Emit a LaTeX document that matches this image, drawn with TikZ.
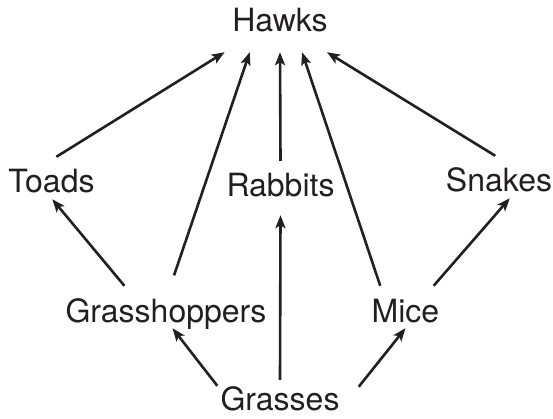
\documentclass[tikz,border=0pt]{standalone}
\usepackage{fontspec}
\setmainfont{TeX Gyre Heros}
\usetikzlibrary{arrows.meta}
\definecolor{ink}{RGB}{35,31,32}

\begin{document}
\begin{tikzpicture}[x=1pt,y=-1pt,
  every node/.style={anchor=base,text=ink,font=\fontsize{32}{38}\selectfont,
    inner xsep=3pt,inner ysep=0pt,text height=36pt,text depth=6pt},
  feeds/.style={every edge/.style={draw=ink,line width=2.6pt,
    -{Stealth[length=13pt,width=10pt,inset=3pt]}}}]
\useasboundingbox (0,0) rectangle (553,419);
\node[text depth=20pt,inner xsep=8pt] (hawks) at (280,32) {Hawks};
\node (toads) at (51.5,193) {Toads};
\node[text depth=18pt] (rabbits) at (280.5,197) {Rabbits};
\node (snakes) at (499,192) {Snakes};
\node (hoppers) at (166,322) {Grasshoppers};
\node (mice) at (405.5,322) {Mice};
\node[text height=30pt] (grasses) at (280,410) {Grasses};
% eaten by hawks
\path[feeds] (toads.77) edge (hawks.207)
  (hoppers.78) edge[shorten <=11pt] (hawks.223)
  (rabbits.90) edge (hawks.270)
  (mice.140) edge (hawks.308)
  (snakes.100) edge (hawks.329);
% middle level
\path[feeds] (hoppers.153) edge (toads.272)
  (mice.37) edge (snakes.297)
  (grasses.90) edge (rabbits.270);
% plants
\path[feeds] (grasses.169) edge (hoppers.287)
  ([shift={(16pt,-7pt)}]grasses.north east) edge (mice.270);
\end{tikzpicture}
\end{document}
